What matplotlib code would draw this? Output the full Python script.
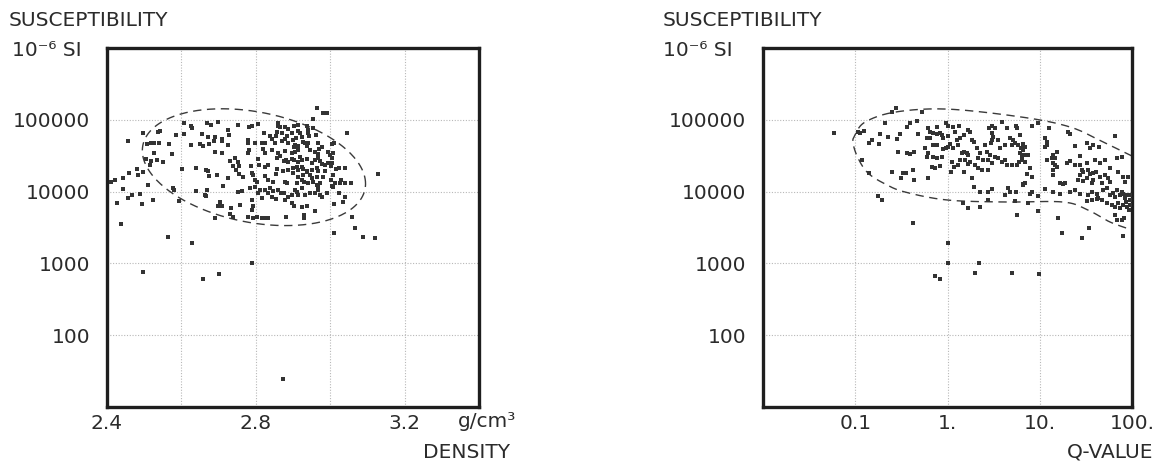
import numpy as np
import matplotlib
matplotlib.use("Agg")
import matplotlib.pyplot as plt

plt.rcParams['font.family'] = ['DejaVu Sans']

# ---------------- data ----------------
# left panel: density (g/cm3) and log10 susceptibility (1e-6 SI)
density = [
    2.456, 2.497, 2.537, 2.542, 2.585, 2.607, 2.607, 2.626, 2.628, 2.655, 2.669, 2.680, 2.698, 2.671, 2.690,
    2.709, 2.725, 2.728, 2.752, 2.508, 2.518, 2.526, 2.540, 2.567, 2.626, 2.650, 2.658, 2.674, 2.688, 2.709,
    2.725, 2.526, 2.575, 2.505, 2.518, 2.534, 2.551, 2.690, 2.709, 2.731, 2.744, 2.752, 2.739, 2.755, 2.516,
    2.459, 2.481, 2.483, 2.497, 2.443, 2.422, 2.411, 2.602, 2.639, 2.666, 2.671, 2.674, 2.696, 2.725, 2.747,
    2.755, 2.766, 2.510, 2.712, 2.443, 2.577, 2.580, 2.639, 2.669, 2.663, 2.666, 2.752, 2.763, 2.456, 2.467,
    2.489, 2.524, 2.427, 2.494, 2.594, 2.704, 2.698, 2.709, 2.733, 2.758, 2.731, 2.739, 2.690, 2.438, 2.564,
    2.628, 2.497, 2.701, 2.658, 2.965, 2.981, 2.991, 3.045, 2.954, 2.806, 2.790, 2.782, 2.860, 2.860, 2.865,
    2.878, 2.887, 2.903, 2.913, 2.913, 2.938, 2.940, 2.954, 2.822, 2.838, 2.857, 2.854, 2.870, 2.884, 2.897,
    2.908, 2.919, 2.924, 2.940, 2.943, 2.962, 2.779, 2.779, 2.798, 2.817, 2.825, 2.844, 2.852, 2.870, 2.878,
    2.887, 2.900, 2.905, 2.913, 2.927, 2.932, 2.938, 2.940, 2.967, 2.978, 3.005, 3.010, 2.782, 2.779, 2.819,
    2.825, 2.844, 2.860, 2.865, 2.878, 2.897, 2.903, 2.905, 2.913, 2.946, 2.959, 2.970, 2.967, 2.994, 2.999,
    3.008, 3.005, 2.806, 2.857, 2.876, 2.881, 2.887, 2.897, 2.903, 2.913, 2.919, 2.924, 2.938, 2.951, 2.959,
    2.967, 2.973, 2.978, 2.986, 2.994, 3.002, 3.005, 3.016, 3.024, 3.040, 2.787, 2.809, 2.825, 2.833, 2.857,
    2.873, 2.887, 2.900, 2.911, 2.913, 2.924, 2.927, 2.938, 2.951, 2.965, 2.967, 2.986, 2.790, 2.792, 2.825,
    2.854, 2.900, 2.913, 2.927, 2.938, 2.946, 2.951, 2.965, 2.981, 3.008, 3.029, 2.798, 2.803, 2.833, 2.846,
    2.878, 2.884, 2.911, 2.924, 2.930, 2.940, 2.954, 2.965, 2.967, 2.973, 3.002, 3.013, 3.005, 3.026, 3.040,
    3.056, 3.128, 2.784, 2.798, 2.811, 2.806, 2.825, 2.833, 2.838, 2.846, 2.860, 2.868, 2.876, 2.887, 2.897,
    2.905, 2.911, 2.913, 2.924, 2.932, 2.946, 2.959, 2.967, 2.973, 2.991, 3.008, 3.024, 3.040, 3.034, 2.790,
    2.817, 2.844, 2.854, 2.878, 2.897, 2.903, 2.924, 2.938, 2.959, 2.978, 3.010, 2.792, 2.790, 2.779, 2.792,
    2.803, 2.817, 2.825, 2.833, 2.881, 2.930, 2.930, 3.059, 3.010, 3.067, 3.088, 3.120, 2.790, 2.873,
]
density_susc_log10 = [
    4.70, 4.82, 4.83, 4.84, 4.79, 4.80, 4.96, 4.91, 4.89, 4.80, 4.96, 4.93, 4.97, 4.76, 4.76,
    4.73, 4.86, 4.79, 4.93, 4.66, 4.68, 4.68, 4.68, 4.66, 4.65, 4.66, 4.64, 4.66, 4.70, 4.70,
    4.65, 4.54, 4.52, 4.45, 4.43, 4.44, 4.41, 4.55, 4.54, 4.43, 4.47, 4.41, 4.36, 4.36, 4.37,
    4.26, 4.31, 4.23, 4.27, 4.19, 4.16, 4.13, 4.31, 4.33, 4.30, 4.29, 4.22, 4.23, 4.19, 4.30,
    4.25, 4.20, 4.09, 4.08, 4.04, 4.05, 4.02, 4.01, 4.02, 3.95, 3.94, 3.99, 4.01, 3.91, 3.95,
    3.97, 3.88, 3.84, 3.83, 3.87, 3.86, 3.80, 3.80, 3.77, 3.81, 3.69, 3.65, 3.63, 3.55, 3.37,
    3.28, 2.88, 2.85, 2.78, 5.16, 5.09, 5.09, 4.82, 5.01, 4.94, 4.91, 4.90, 4.96, 4.91, 4.90,
    4.90, 4.87, 4.91, 4.93, 4.84, 4.91, 4.86, 4.89, 4.82, 4.77, 4.83, 4.77, 4.82, 4.77, 4.82,
    4.75, 4.82, 4.76, 4.82, 4.77, 4.79, 4.72, 4.68, 4.68, 4.68, 4.68, 4.73, 4.68, 4.70, 4.73,
    4.68, 4.72, 4.65, 4.64, 4.69, 4.68, 4.64, 4.68, 4.68, 4.62, 4.66, 4.68, 4.58, 4.54, 4.59,
    4.54, 4.58, 4.54, 4.50, 4.57, 4.54, 4.62, 4.55, 4.58, 4.58, 4.55, 4.59, 4.52, 4.55, 4.51,
    4.54, 4.47, 4.45, 4.47, 4.43, 4.44, 4.41, 4.45, 4.44, 4.41, 4.48, 4.44, 4.45, 4.40, 4.44,
    4.47, 4.43, 4.38, 4.37, 4.40, 4.36, 4.40, 4.31, 4.33, 4.33, 4.36, 4.37, 4.34, 4.37, 4.31,
    4.29, 4.30, 4.33, 4.34, 4.30, 4.34, 4.31, 4.29, 4.30, 4.33, 4.29, 4.29, 4.26, 4.23, 4.22,
    4.25, 4.26, 4.20, 4.23, 4.27, 4.23, 4.19, 4.20, 4.20, 4.23, 4.16, 4.16, 4.13, 4.16, 4.13,
    4.13, 4.12, 4.12, 4.16, 4.13, 4.12, 4.13, 4.09, 4.06, 4.12, 4.16, 4.12, 4.08, 4.12, 4.12,
    4.12, 4.25, 4.05, 4.06, 4.02, 3.98, 4.02, 3.98, 4.05, 4.01, 4.02, 3.98, 3.98, 3.92, 3.95,
    4.02, 3.99, 3.95, 4.05, 3.95, 3.98, 3.98, 4.02, 3.95, 3.98, 4.06, 3.98, 3.92, 3.86, 3.88,
    3.91, 3.92, 3.90, 3.88, 3.84, 3.80, 3.79, 3.80, 3.73, 3.92, 3.83, 3.80, 3.74, 3.65, 3.63,
    3.65, 3.63, 3.63, 3.63, 3.65, 3.67, 3.63, 3.65, 3.42, 3.49, 3.37, 3.35, 3.01, 1.39,
]

# right panel: log10 Q-value and log10 susceptibility
q_log10 = [
    -1.23, -0.97, -0.95, -0.91, -0.68, -0.60, -0.56, -0.82, -0.85, -0.74, -0.73, -0.64, -0.55, -0.51, -0.44,
    -0.41, -0.54, -0.44, -0.41, -0.36, -0.93, -0.85, -0.60, -0.50, -0.48, -0.45, -0.37, -0.36, -0.75, -0.71,
    -0.37, 0.00, 0.00, -0.14, -0.08, 0.30, 0.34, 0.70, 0.99, -0.28, -0.33, -0.21, -0.11, -0.19, -0.16,
    -0.11, -0.08, -0.06, -0.02, 0.01, 0.06, 0.12, 0.08, 0.00, -0.05, -0.22, -0.19, -0.32, 0.03, 0.01,
    -0.02, -0.05, -0.16, -0.11, 0.10, 0.14, 0.18, 0.22, 0.24, 0.27, 0.29, 0.06, 0.11, 0.16, 0.18,
    0.21, 0.22, 0.32, 0.35, 0.33, 0.38, 0.41, 0.45, 0.48, 0.51, 0.48, 0.49, 0.48, 0.47, 0.43,
    0.46, 0.44, 0.48, 0.55, 0.59, 0.62, 0.57, 0.65, 0.68, 0.71, 0.74, 0.75, 0.51, 0.55, 0.59,
    0.62, 0.65, 0.70, 0.73, 0.76, 0.80, 0.82, 0.70, 0.75, 0.78, 0.81, -0.24, -0.21, -0.22, -0.16,
    -0.11, -0.06, -0.17, -0.14, -0.08, 0.05, 0.07, 0.11, 0.14, 0.19, 0.22, 0.24, 0.30, 0.33, 0.37,
    0.44, 0.04, 0.18, -0.21, 0.27, 0.29, 0.35, 0.44, 0.48, 0.62, 0.66, 0.68, 0.74, 0.82, 0.17,
    0.22, 0.35, 0.44, 0.73, 0.75, 0.92, 0.98, 1.10, 1.31, 1.33, 1.82, 0.79, 0.82, 0.84, 0.82,
    0.79, 0.83, 0.81, 0.84, 0.87, 1.06, 1.08, 1.06, 1.08, 1.19, 1.14, 1.17, 1.13, 1.38, 1.44,
    1.51, 1.54, 1.58, 1.64, 1.08, 1.14, 1.17, 1.19, 1.14, 1.14, 0.89, 0.86, 0.92, 0.84, 0.82,
    1.30, 1.33, 1.38, 1.44, 1.46, 1.51, 1.60, 1.65, 1.71, 1.76, 1.84, 1.89, 1.44, 1.47, 1.52,
    1.54, 1.58, 1.61, 1.41, 1.47, 1.51, 1.57, 1.58, 1.65, 1.71, 1.74, 1.76, 1.67, 1.85, 1.90,
    1.92, 1.96, 1.22, 1.25, 1.27, 1.06, 1.14, 1.22, 1.33, 1.38, 1.44, 1.52, 1.57, 1.62, 1.63,
    1.69, 1.73, 1.76, 1.79, 1.82, 1.84, 1.87, 1.89, 1.90, 1.92, 1.95, 1.51, 1.57, 1.62, 1.67,
    1.73, 1.78, 1.82, 1.85, 1.87, 1.90, 1.93, 1.95, 0.89, 0.92, 0.98, 0.87, 0.98, 1.82, 1.84,
    1.89, 1.91, 1.20, 1.24, 1.53, 1.46, 1.90, 1.98, 1.98, 1.98, 1.97,
]
q_susc_log10 = [
    4.82, 4.83, 4.82, 4.84, 4.96, 5.11, 5.16, 4.72, 4.68, 4.66, 4.80, 4.76, 4.73, 4.80, 4.90,
    4.96, 4.55, 4.54, 4.52, 4.55, 4.44, 4.26, 4.27, 4.19, 4.26, 4.26, 4.30, 4.16, 3.94, 3.88,
    3.56, 3.28, 3.01, 2.82, 2.78, 2.87, 3.01, 2.87, 2.85, 5.11, 4.98, 4.89, 4.90, 4.83, 4.82,
    4.80, 4.82, 4.79, 4.96, 4.91, 4.90, 4.91, 4.83, 4.77, 4.75, 4.75, 4.75, 4.80, 4.66, 4.62,
    4.61, 4.59, 4.65, 4.65, 4.72, 4.75, 4.79, 4.86, 4.83, 4.72, 4.69, 4.61, 4.65, 4.54, 4.55,
    4.54, 4.51, 4.61, 4.54, 4.47, 4.44, 4.65, 4.89, 4.91, 4.89, 4.82, 4.76, 4.72, 4.68, 4.55,
    4.51, 4.44, 4.40, 4.72, 4.97, 4.65, 4.61, 4.89, 4.75, 4.72, 4.91, 4.89, 4.48, 4.47, 4.41,
    4.44, 4.37, 4.65, 4.68, 4.65, 4.61, 4.58, 4.37, 4.37, 4.41, 4.48, 4.61, 4.54, 4.48, 4.48,
    4.47, 4.48, 4.34, 4.33, 4.36, 4.41, 4.34, 4.37, 4.44, 4.44, 4.38, 4.41, 4.37, 4.33, 4.30,
    4.30, 4.27, 4.27, 4.19, 4.19, 4.06, 3.99, 3.99, 4.04, 3.95, 4.05, 3.99, 3.99, 4.11, 3.84,
    3.77, 3.79, 3.88, 3.87, 3.67, 4.91, 4.96, 4.89, 4.83, 4.80, 4.77, 4.79, 4.66, 4.62, 4.58,
    4.54, 4.51, 4.44, 4.41, 4.51, 4.75, 4.69, 4.62, 4.65, 4.55, 4.51, 4.47, 4.47, 4.64, 4.50,
    4.68, 4.61, 4.65, 4.62, 4.44, 4.40, 4.37, 4.34, 4.30, 4.23, 4.33, 4.25, 4.20, 4.12, 4.09,
    4.40, 4.43, 4.37, 4.37, 4.30, 4.40, 4.44, 4.40, 4.44, 4.33, 4.47, 4.48, 4.23, 4.27, 4.30,
    4.25, 4.26, 4.27, 4.16, 4.15, 4.19, 4.12, 4.16, 4.20, 4.23, 4.19, 4.13, 4.12, 4.27, 4.20,
    4.13, 4.20, 4.12, 4.11, 4.12, 4.04, 3.99, 3.97, 3.99, 4.02, 3.97, 3.95, 3.99, 3.97, 3.91,
    4.02, 4.05, 3.95, 3.98, 3.92, 4.02, 3.95, 3.99, 3.97, 3.91, 3.95, 3.87, 3.88, 3.90, 3.88,
    3.84, 3.81, 3.79, 3.84, 3.77, 3.81, 3.86, 3.79, 3.97, 3.99, 3.94, 3.84, 3.73, 3.67, 3.60,
    3.60, 3.63, 3.63, 3.42, 3.49, 3.35, 3.38, 3.88, 3.81, 3.95, 3.74,
]

# envelope on the left panel (ellipse): centre, half-width, half-height (decades), slope
ell_center_density = 2.795
ell_center_log = 4.34
ell_half_width = 0.30
ell_half_height = 0.78
ell_slope = -0.77

# envelope on the right panel (closed on the right by the frame)
env_q = [100, 48.5, 21.3, 6.43, 0.99, 0.27, 0.128, 0.0993, 0.0946, 0.107, 0.137, 0.21,
         0.346, 0.99, 4.2, 17.9, 33.3, 57.8, 100]
env_susc = [31300, 49100, 79400, 109000, 141000, 128000, 93100, 61400, 47500, 29400, 18200,
            12800, 9870, 7640, 7160, 7160, 5540, 3770, 2920]

y_ticks = [100, 1000, 10000, 100000]
y_ticklabels = ["100", "1000", "10000", "100000"]
dens_ticks = [2.4, 2.6, 2.8, 3.0, 3.2]
dens_ticklabels = ["2.4", "", "2.8", "", "3.2"]
q_ticks = [0.1, 1, 10, 100]
q_ticklabels = ["0.1", "1.", "10.", "100."]

# ---------------- drawing ----------------
W, H = 1162, 462
fig = plt.figure(figsize=(W / 100, H / 100), dpi=100)
fig.patch.set_facecolor("white")

INK = "#2b2b2b"
FS = 14.5

axL = fig.add_axes([107 / W, (H - 407) / H, 372 / W, 359 / H])
axR = fig.add_axes([763 / W, (H - 407) / H, 369 / W, 359 / H])


def catmull_rom(xs, ys, n=20):
    P = np.column_stack([xs, ys])
    P = np.vstack([P[0] - (P[1] - P[0]), P, P[-1] + (P[-1] - P[-2])])
    out = []
    for i in range(1, len(P) - 2):
        p0, p1, p2, p3 = P[i - 1], P[i], P[i + 1], P[i + 2]
        t = np.linspace(0, 1, n, endpoint=False)[:, None]
        out.append(0.5 * ((2 * p1) + (-p0 + p2) * t + (2 * p0 - 5 * p1 + 4 * p2 - p3) * t ** 2
                          + (-p0 + 3 * p1 - 3 * p2 + p3) * t ** 3))
    out.append(P[-2][None, :])
    return np.vstack(out)


for ax in (axL, axR):
    ax.set_yscale("log")
    ax.set_ylim(10, 1e6)
    ax.set_yticks(y_ticks)
    ax.set_yticklabels(y_ticklabels)
    ax.yaxis.set_minor_locator(matplotlib.ticker.NullLocator())
    ax.tick_params(axis="both", which="both", length=0, labelsize=FS, colors=INK)
    ax.tick_params(axis="y", pad=12)
    ax.tick_params(axis="x", pad=5)
    ax.grid(True, which="major", color="#b8b8b8", linestyle=(0, (1, 1.5)), linewidth=0.8)
    for s in ax.spines.values():
        s.set_linewidth(2.4)
        s.set_color("#1e1e1e")
    ax.set_axisbelow(True)

# left
axL.set_xlim(2.4, 3.4)
axL.set_xticks(dens_ticks)
axL.set_xticklabels(dens_ticklabels)
axL.scatter(density, 10 ** np.array(density_susc_log10), marker="s", s=5,
            color="#333333", linewidths=0, zorder=3)
t = np.linspace(0, 2 * np.pi, 300)
ex = ell_center_density + ell_half_width * np.cos(t)
ey = ell_center_log + ell_half_height * np.sin(t) + ell_slope * (ex - ell_center_density)
axL.plot(ex, 10 ** ey, color="#3a3a3a", lw=1.0, ls=(0, (6, 4)), zorder=2)

# right
axR.set_xscale("log")
axR.set_xlim(0.01, 100)
axR.set_xticks(q_ticks)
axR.set_xticklabels(q_ticklabels)
axR.xaxis.set_minor_locator(matplotlib.ticker.NullLocator())
axR.scatter(10 ** np.array(q_log10), 10 ** np.array(q_susc_log10), marker="s", s=5,
            color="#333333", linewidths=0, zorder=3, clip_on=True)
curve = catmull_rom(np.log10(env_q), np.log10(env_susc), n=20)
axR.plot(10 ** curve[:, 0], 10 ** curve[:, 1], color="#3a3a3a", lw=1.0, ls=(0, (6, 4)), zorder=2)

# labels
fig.text(9 / W, 1 - 26 / H, "SUSCEPTIBILITY", fontsize=FS, color=INK, ha="left", va="baseline")
fig.text(12 / W, 1 - 56 / H, "10⁻⁶ SI", fontsize=FS, color=INK, ha="left", va="baseline")
fig.text(663 / W, 1 - 26 / H, "SUSCEPTIBILITY", fontsize=FS, color=INK, ha="left", va="baseline")
fig.text(663 / W, 1 - 56 / H, "10⁻⁶ SI", fontsize=FS, color=INK, ha="left", va="baseline")
fig.text(458 / W, 1 - 427 / H, "g/cm³", fontsize=FS, color=INK, ha="left", va="baseline")
fig.text(510 / W, 1 - 458 / H, "DENSITY", fontsize=FS, color=INK, ha="right", va="baseline")
fig.text(1153 / W, 1 - 458 / H, "Q-VALUE", fontsize=FS, color=INK, ha="right", va="baseline")

fig.savefig("out.png", dpi=100, facecolor="white")
